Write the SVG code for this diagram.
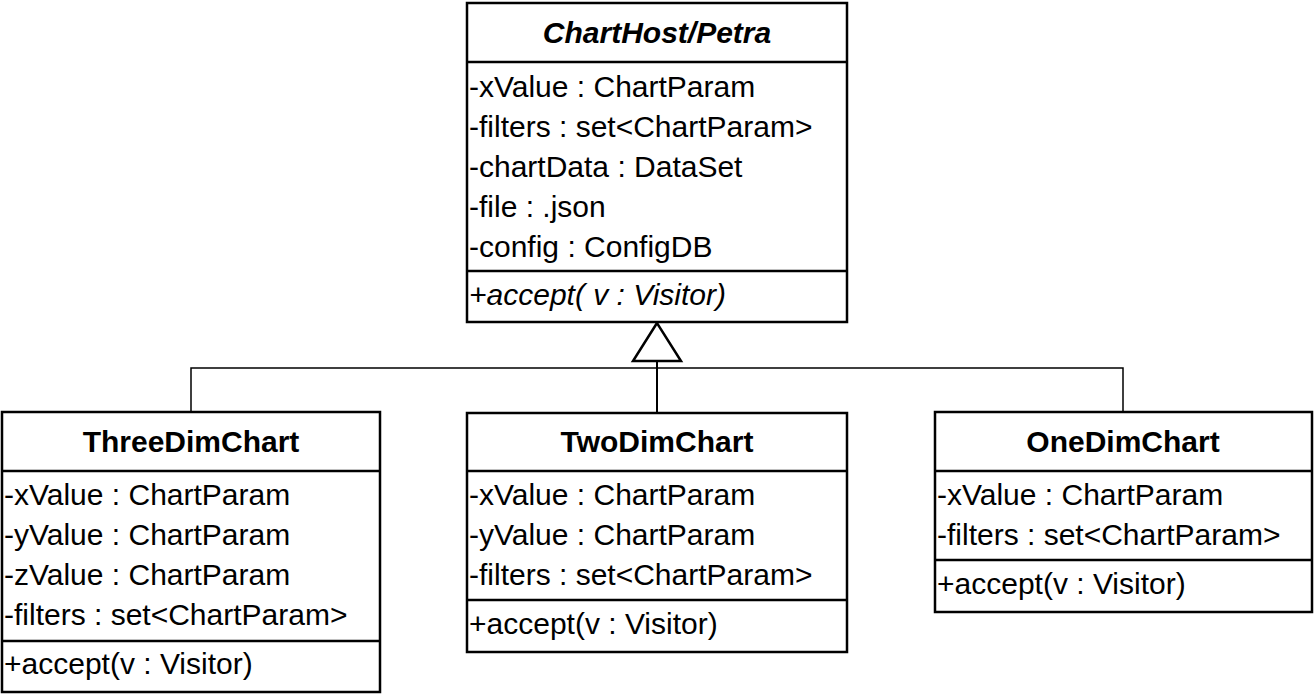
<svg xmlns="http://www.w3.org/2000/svg" width="1314" height="695" viewBox="0 0 1314 695">
<style>
.box{fill:#fff;stroke:#000;stroke-width:2.5}
.div{stroke:#000;stroke-width:2.5}
text{font-family:"Liberation Sans",Arial,sans-serif;font-size:30px;fill:#000}
.title{font-weight:bold;text-anchor:middle}
.it{font-style:italic}
.conn{fill:none;stroke:#000;stroke-width:1.5}
</style>
<rect width="1314" height="695" fill="#fff"/>
<g id="connectors">
<path class="conn" d="M191 412 V368 H1123 V412"/>
<path d="M657 361 V413" fill="none" stroke="#000" stroke-width="2"/>
<polygon points="657,323 633,361 681,361" fill="#fff" stroke="#000" stroke-width="2.5"/>
</g>
<g id="ChartHost">
<rect class="box" x="467" y="3" width="380" height="319"/>
<line class="div" x1="467" y1="62" x2="847" y2="62"/>
<line class="div" x1="467" y1="271" x2="847" y2="271"/>
<text class="title it" x="657" y="43">ChartHost/Petra</text>
<text x="469" y="97">-xValue : ChartParam</text>
<text x="469" y="137">-filters : set&lt;ChartParam&gt;</text>
<text x="469" y="177">-chartData : DataSet</text>
<text x="469" y="217">-file : .json</text>
<text x="469" y="257">-config : ConfigDB</text>
<text class="it" x="469" y="305">+accept( v : Visitor)</text>
</g>
<g id="ThreeDimChart">
<rect class="box" x="2" y="412" width="378" height="280"/>
<line class="div" x1="2" y1="471" x2="380" y2="471"/>
<line class="div" x1="2" y1="641" x2="380" y2="641"/>
<text class="title" x="191" y="452">ThreeDimChart</text>
<text x="4" y="505">-xValue : ChartParam</text>
<text x="4" y="545">-yValue : ChartParam</text>
<text x="4" y="585">-zValue : ChartParam</text>
<text x="4" y="625">-filters : set&lt;ChartParam&gt;</text>
<text x="4" y="674">+accept(v : Visitor)</text>
</g>
<g id="TwoDimChart">
<rect class="box" x="467" y="413" width="380" height="239"/>
<line class="div" x1="467" y1="471" x2="847" y2="471"/>
<line class="div" x1="467" y1="600" x2="847" y2="600"/>
<text class="title" x="657" y="452">TwoDimChart</text>
<text x="469" y="505">-xValue : ChartParam</text>
<text x="469" y="545">-yValue : ChartParam</text>
<text x="469" y="585">-filters : set&lt;ChartParam&gt;</text>
<text x="469" y="634">+accept(v : Visitor)</text>
</g>
<g id="OneDimChart">
<rect class="box" x="935" y="412" width="377" height="200"/>
<line class="div" x1="935" y1="471" x2="1312" y2="471"/>
<line class="div" x1="935" y1="560" x2="1312" y2="560"/>
<text class="title" x="1123" y="452">OneDimChart</text>
<text x="937" y="505">-xValue : ChartParam</text>
<text x="937" y="545">-filters : set&lt;ChartParam&gt;</text>
<text x="937" y="594">+accept(v : Visitor)</text>
</g>
</svg>
